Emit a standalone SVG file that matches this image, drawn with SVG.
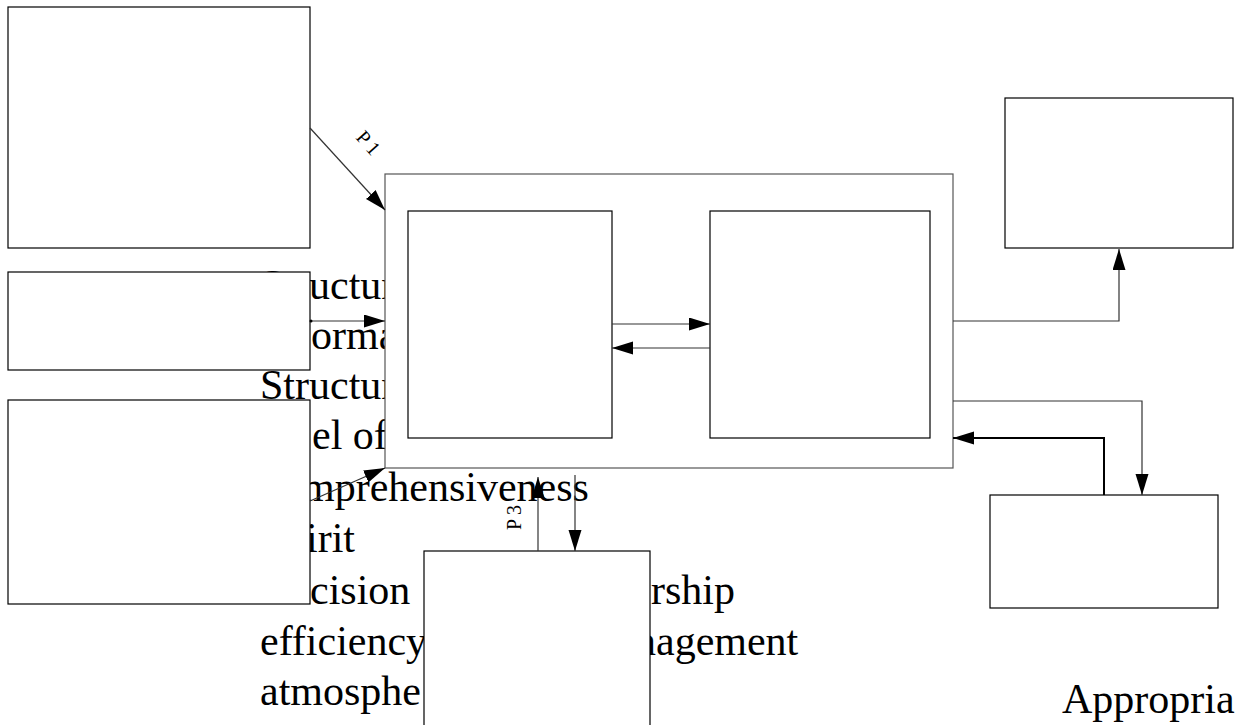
<svg xmlns="http://www.w3.org/2000/svg" width="1237" height="725" viewBox="0 0 1237 725">
<defs>
<style>
.t{font-family:"Liberation Serif","Times New Roman",serif;font-size:42px;fill:#000}
.lb{font-family:"Liberation Serif","Times New Roman",serif;font-size:20px;letter-spacing:4px;fill:#000}
.box{fill:#fff;stroke:#000;stroke-width:1.2}
.mbox{fill:#fff;stroke:#555;stroke-width:1.2}
.ln{fill:none;stroke:#333;stroke-width:1.2}
.thick{fill:none;stroke:#000;stroke-width:2}
</style>
<marker id="ah" markerUnits="userSpaceOnUse" markerWidth="22" markerHeight="14" refX="21" refY="6.5" orient="auto">
<path d="M0,0 L21,6.5 L0,13 z" fill="#000"/>
</marker>
</defs>
<rect width="1237" height="725" fill="#fff"/>
<g id="text-block">
<text class="t" x="260" y="299">Structur</text>
<text class="t" x="311" y="349">orma</text>
<text class="t" x="260" y="399">Structur</text>
<text class="t" x="312" y="449">el of</text>
<text class="t" x="302" y="501">mprehensiveness</text>
<text class="t" x="306" y="552">irit</text>
<text class="t" x="310" y="604">cision</text>
<text class="t" x="651" y="604">rship</text>
<text class="t" x="260" y="655">efficiency</text>
<text class="t" x="635" y="655">nagement</text>
<text class="t" x="260" y="705">atmosphe</text>
<text class="t" x="1062" y="713">Appropria</text>
</g>
<g id="node-a"><rect class="box" x="8" y="7" width="302" height="241"/></g>
<g id="node-b"><rect class="box" x="8" y="272" width="302" height="98"/></g>
<g id="node-c"><rect class="box" x="8" y="400" width="302" height="204"/></g>
<g id="node-main"><rect class="mbox" x="385" y="174" width="568" height="294"/></g>
<g id="node-inner-left"><rect class="box" x="408" y="211" width="204" height="227"/></g>
<g id="node-inner-right"><rect class="box" x="710" y="211" width="220" height="227"/></g>
<g id="node-top-right"><rect class="box" x="1005" y="98" width="228" height="150"/></g>
<g id="node-bottom-right"><rect class="box" x="990" y="495" width="228" height="113"/></g>
<g id="node-p3"><rect class="box" x="424" y="551" width="226" height="190"/></g>
<g id="connectors">
<line class="ln" x1="310" y1="128" x2="385" y2="210" marker-end="url(#ah)"/>
<text class="lb" transform="translate(355,138) rotate(48)">P1</text>
<line class="ln" x1="310" y1="321" x2="385" y2="321" marker-end="url(#ah)"/>
<circle cx="311" cy="321" r="1.5" fill="#000"/>
<line class="ln" x1="310" y1="501" x2="385" y2="468" marker-end="url(#ah)"/>
<line class="ln" x1="612" y1="324" x2="710" y2="324" marker-end="url(#ah)"/>
<line class="ln" x1="710" y1="348" x2="612" y2="348" marker-end="url(#ah)"/>
<polyline class="ln" points="953,321 1119,321 1119,249" marker-end="url(#ah)"/>
<polyline class="ln" points="953,401 1142,401 1142,495" marker-end="url(#ah)"/>
<polyline class="thick" points="1104,495 1104,438 953,438" marker-end="url(#ah)"/>
<line class="ln" x1="538" y1="551" x2="538" y2="477" marker-end="url(#ah)"/>
<line class="ln" x1="575" y1="475" x2="575" y2="551" marker-end="url(#ah)"/>
<text class="lb" transform="translate(521,530) rotate(-90)">P3</text>
</g>
</svg>
